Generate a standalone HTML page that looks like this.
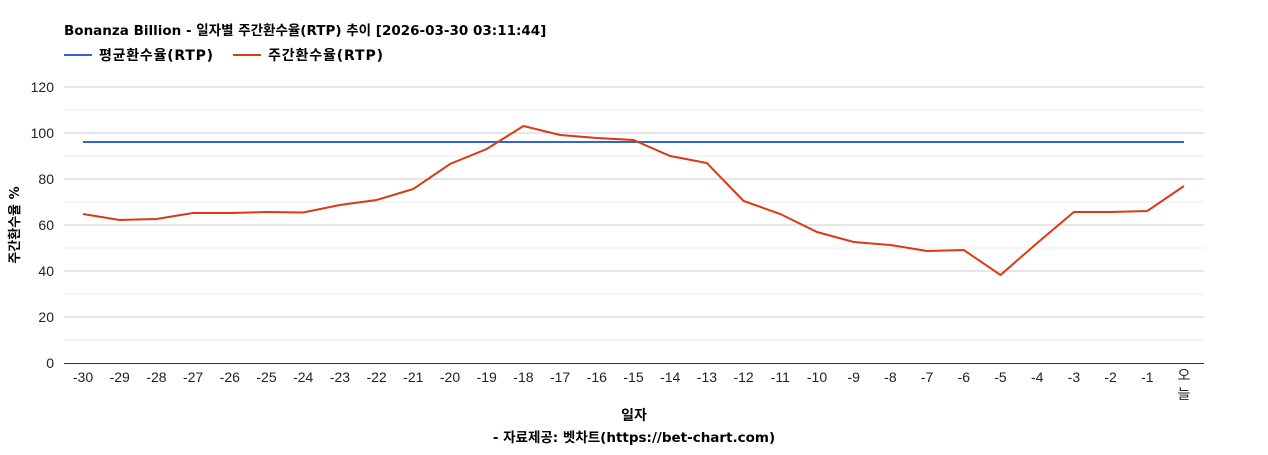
<!DOCTYPE html>
<html><head><meta charset="utf-8"><style>
body{margin:0;background:#fff;}
svg text{font-family:"Liberation Sans","Noto Sans CJK KR",sans-serif;}
svg text.dj{font-family:"DejaVu Sans","Noto Sans CJK KR",sans-serif;}
</style></head><body>
<svg width="1268" height="450" xmlns="http://www.w3.org/2000/svg">
<text class="dj" x="64" y="35" font-size="13.5" font-weight="bold" fill="#000">Bonanza Billion - 일자별 주간환수율(RTP) 추이 [2026-03-30 03:11:44]</text>
<line x1="64" y1="55" x2="92" y2="55" stroke="#3366cc" stroke-width="2"/>
<text class="dj" x="99" y="60" font-size="14" font-weight="bold" textLength="114">평균환수율(RTP)</text>
<line x1="233" y1="55" x2="261" y2="55" stroke="#dc3912" stroke-width="2"/>
<text class="dj" x="268" y="60" font-size="14" font-weight="bold" textLength="115">주간환수율(RTP)</text>
<g stroke="#ebebeb" stroke-width="1">
<line x1="64" x2="1204" y1="340" y2="340"/><line x1="64" x2="1204" y1="294" y2="294"/><line x1="64" x2="1204" y1="248" y2="248"/><line x1="64" x2="1204" y1="202" y2="202"/><line x1="64" x2="1204" y1="156" y2="156"/><line x1="64" x2="1204" y1="110" y2="110"/>
</g>
<g stroke="#cccccc" stroke-width="1">
<line x1="64" x2="1204" y1="317" y2="317"/><line x1="64" x2="1204" y1="271" y2="271"/><line x1="64" x2="1204" y1="225" y2="225"/><line x1="64" x2="1204" y1="179" y2="179"/><line x1="64" x2="1204" y1="133" y2="133"/><line x1="64" x2="1204" y1="87" y2="87"/>
</g>
<line x1="64" x2="1204" y1="363.5" y2="363.5" stroke="#333"/>
<g font-size="14" text-anchor="end" fill="#222">
<text x="54" y="368">0</text><text x="54" y="322">20</text><text x="54" y="276">40</text><text x="54" y="230">60</text><text x="54" y="184">80</text><text x="54" y="138">100</text><text x="54" y="92">120</text>
</g>
<text class="dj" transform="translate(19,225) rotate(-90)" font-size="13" font-weight="bold" text-anchor="middle">주간환수율 %</text>
<g font-size="14" text-anchor="middle" fill="#222">
<text x="83" y="382">-30</text><text x="119.7" y="382">-29</text><text x="156.4" y="382">-28</text><text x="193.1" y="382">-27</text><text x="229.8" y="382">-26</text><text x="266.5" y="382">-25</text><text x="303.2" y="382">-24</text><text x="339.9" y="382">-23</text><text x="376.6" y="382">-22</text><text x="413.3" y="382">-21</text><text x="450" y="382">-20</text><text x="486.7" y="382">-19</text><text x="523.4" y="382">-18</text><text x="560.1" y="382">-17</text><text x="596.8" y="382">-16</text><text x="633.5" y="382">-15</text><text x="670.2" y="382">-14</text><text x="706.9" y="382">-13</text><text x="743.6" y="382">-12</text><text x="780.3" y="382">-11</text><text x="817" y="382">-10</text><text x="853.7" y="382">-9</text><text x="890.4" y="382">-8</text><text x="927.1" y="382">-7</text><text x="963.8" y="382">-6</text><text x="1000.5" y="382">-5</text><text x="1037.2" y="382">-4</text><text x="1073.9" y="382">-3</text><text x="1110.6" y="382">-2</text><text x="1147.3" y="382">-1</text><text x="1184" y="380">오</text><text x="1184" y="399">늘</text>
</g>
<text class="dj" x="634" y="420" font-size="14" font-weight="bold" text-anchor="middle">일자</text>
<text class="dj" x="634" y="442" font-size="13.5" font-weight="bold" text-anchor="middle">- 자료제공: 벳차트(https://bet-chart.com)</text>
<line x1="83" x2="1184" y1="142" y2="142" stroke="#3366cc" stroke-width="2"/>
<polyline fill="none" stroke="#dc3912" stroke-width="2" points="83,214 119.7,220 156.4,219 193.1,213 229.8,213 266.5,212 303.2,212.5 339.9,205 376.6,200 413.3,189 450,164 486.7,149 523.4,126 560.1,135 596.8,138 633.5,140 670.2,156 706.9,163 743.6,201 780.3,214 817,232 853.7,242 890.4,245 927.1,251 963.8,250 1000.5,275 1037.2,243 1073.9,212 1110.6,212 1147.3,211 1184,186"/>
</svg>
</body></html>
